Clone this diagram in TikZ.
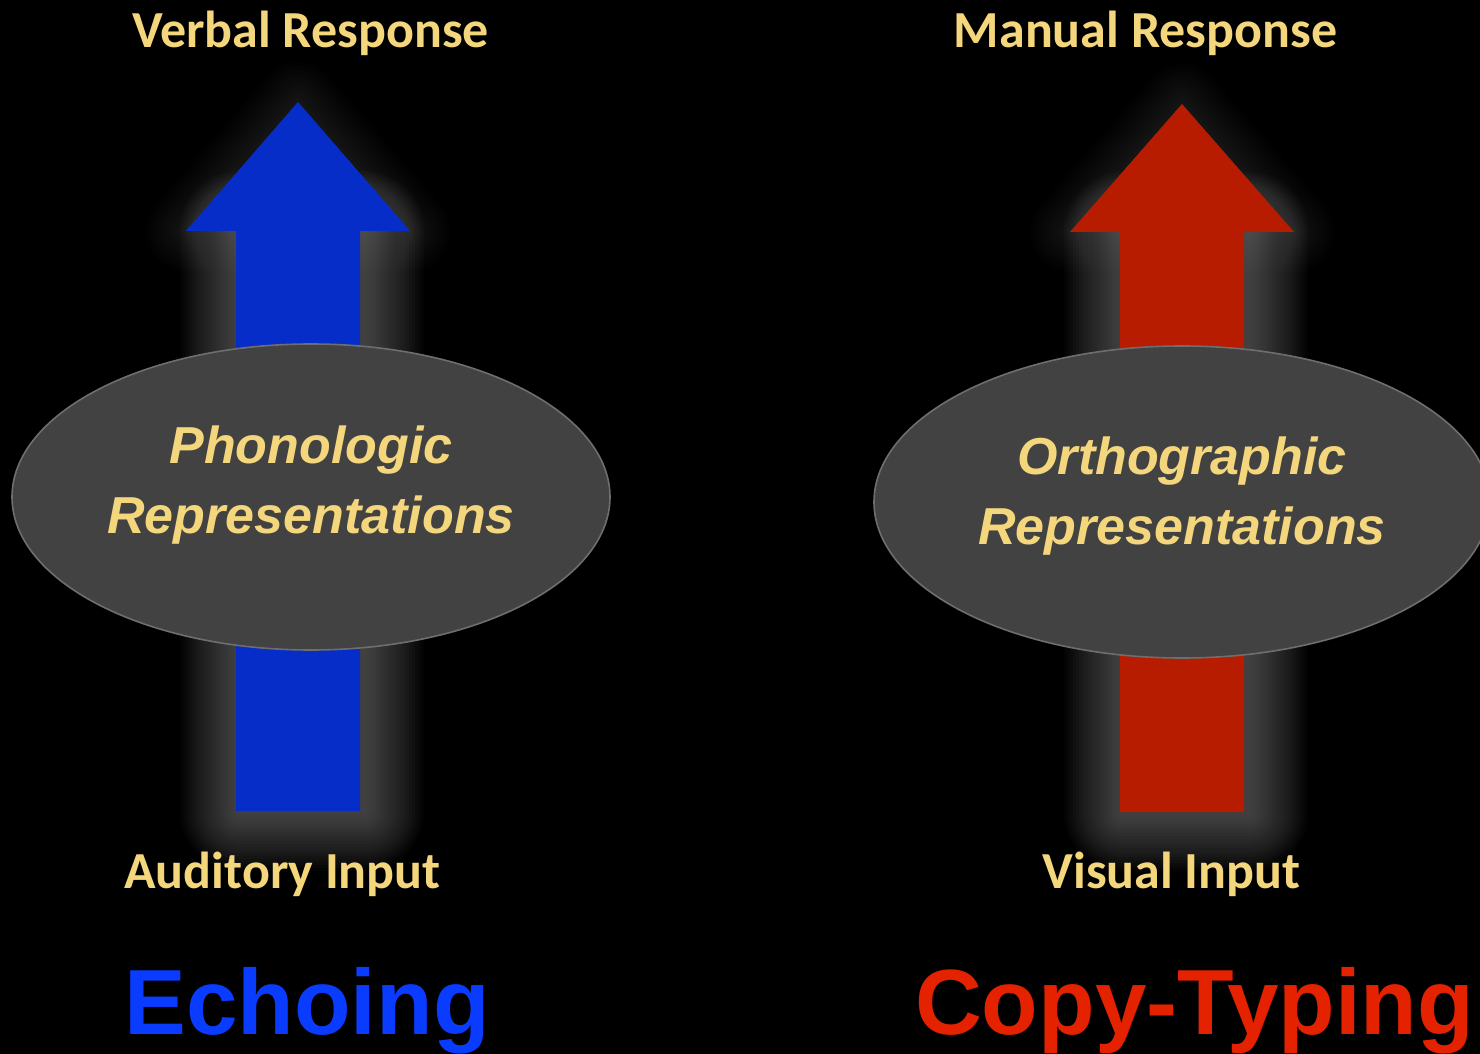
\documentclass[tikz,border=0pt]{standalone}
\usepackage{fontspec}
\usetikzlibrary{shapes.geometric}
\newfontfamily\carlitofont{Carlito}
\newfontfamily\arialfont{Liberation Sans}
\definecolor{gold}{HTML}{F4D67C}
\definecolor{ellfill}{HTML}{424242}
\definecolor{elldraw}{HTML}{6E6E6E}
\definecolor{bluearrow}{HTML}{072DC9}
\definecolor{bluetext}{HTML}{0A3CFF}
\definecolor{redarrow}{HTML}{B71C00}
\definecolor{redtext}{HTML}{E52200}
\definecolor{glowcol}{HTML}{8C8C8C}
\begin{document}
\begin{tikzpicture}[x=0.5pt,y=-0.5pt,
  lbl/.style={text=gold, font=\carlitofont\bfseries\fontsize{26}{30}\selectfont, inner sep=0pt, anchor=base},
  reptxt/.style={text=gold, font=\arialfont\bfseries\itshape\fontsize{26}{35}\selectfont, inner sep=0pt, anchor=base},
  repell/.style={ellipse, fill=ellfill, draw=elldraw, line width=0.8pt, inner sep=0pt},
  title/.style={font=\arialfont\bfseries\fontsize{46.3}{54}\selectfont, inner sep=0pt, anchor=base},
  shaftglow/.style={fill=glowcol, fill opacity=0.034},
  headglow/.style={draw=glowcol, fill=glowcol, draw opacity=0.018, fill opacity=0.018, line join=round},
]
\fill[black] (0,0) rectangle (1480,1054);
\useasboundingbox (0,0) rectangle (1480,1054);
\clip (0,0) rectangle (1480,1054);

% soft glows behind the arrows
\foreach \d in {3,6,...,60}{
  \fill[shaftglow, rounded corners=\d*0.5pt] (240-\d,231-\d) rectangle (364+\d,811+\d);
  \fill[shaftglow, rounded corners=\d*0.5pt] (1124-\d,232-\d) rectangle (1248+\d,812+\d);
}
\foreach \d in {4,8,...,40}{
  \filldraw[headglow, line width=\d*1pt] (186,231) -- (298,102) -- (410,231) -- cycle;
  \filldraw[headglow, line width=\d*1pt] (1070,232) -- (1182,104) -- (1294,232) -- cycle;
}
% arrows
\fill[bluearrow] (236,811) -- (236,231) -- (186,231) -- (298,102) -- (410,231) -- (360,231) -- (360,811) -- cycle;
\fill[redarrow] (1120,812) -- (1120,232) -- (1070,232) -- (1182,104) -- (1294,232) -- (1244,232) -- (1244,812) -- cycle;

% ellipses
\node[repell, minimum width=299pt, minimum height=153pt] (phon) at (311,497) {};
\node[repell, minimum width=308pt, minimum height=156pt] (orth) at (1182,502) {};

\node[reptxt] (phon1) at (311,463) {Phonologic};
\node[reptxt] (phon2) at (311,533) {Representations};
\node[reptxt] (orth1) at (1182,474) {Orthographic};
\node[reptxt] (orth2) at (1182,544) {Representations};

% labels
\node[lbl] (verbal) at (310.5,48) {Verbal Response};
\node[lbl] (manual) at (1145.5,48) {Manual Response};
\node[lbl] (auditory) at (282.5,888) {Auditory Input};
\node[lbl] (visual) at (1171.5,888) {Visual Input};

% titles
\node[title, text=bluetext] (echo) at (307,1034) {Echoing};
\node[title, text=redtext] (copy) at (1194.5,1034) {Copy-Typing};
\end{tikzpicture}
\end{document}
